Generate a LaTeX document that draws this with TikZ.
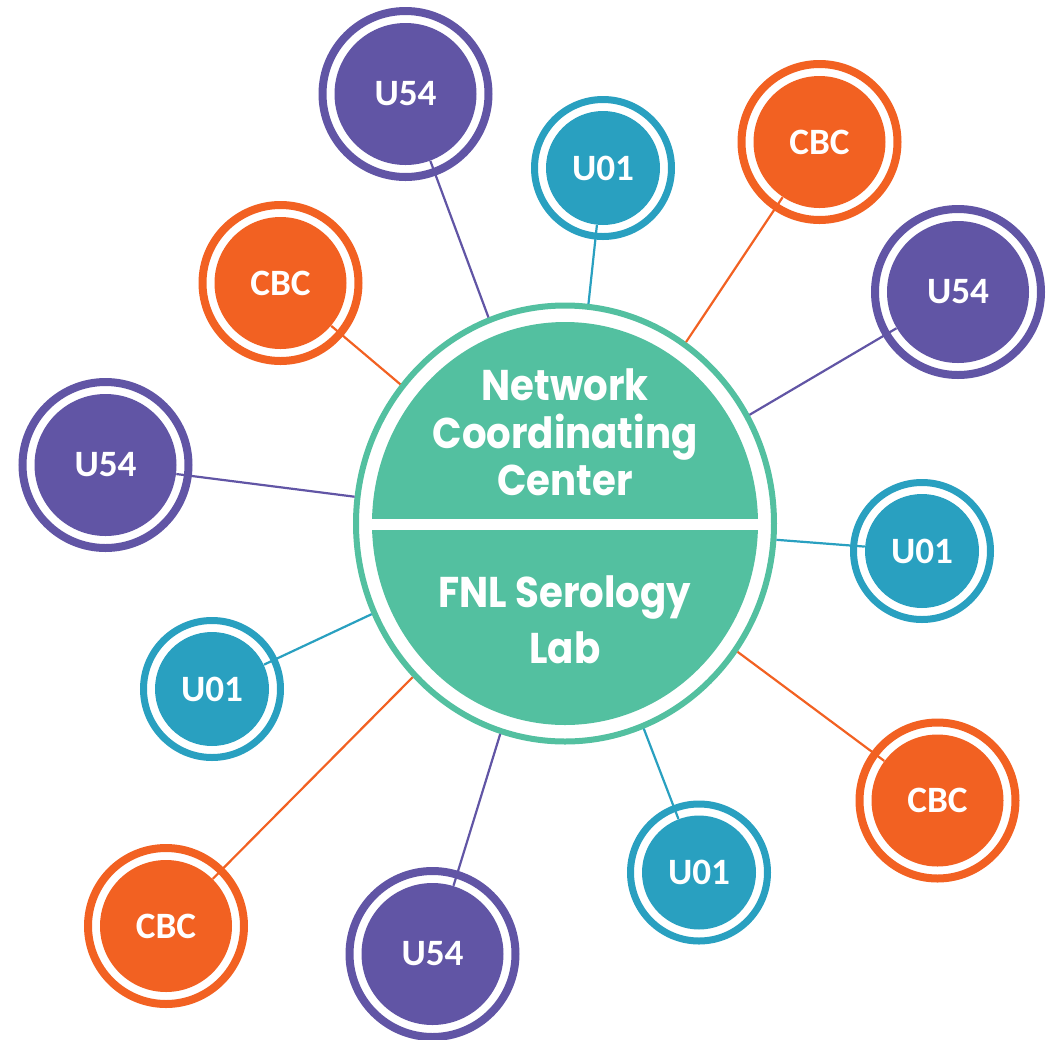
\documentclass[tikz,border=0pt]{standalone}
\usepackage{fontspec}
\usetikzlibrary{shapes.geometric}
\newfontfamily\hubfont{Poppins}[FakeStretch=0.9]
\newfontfamily\satfont{Carlito}
\definecolor{hubgreen}{RGB}{83,192,160}
\definecolor{u54purple}{RGB}{97,85,165}
\definecolor{u01blue}{RGB}{41,160,192}
\definecolor{cbcorange}{RGB}{242,97,34}
\tikzset{
  hubtext/.style={anchor=base, text=white, inner sep=0pt,
    font=\hubfont\bfseries\fontsize{21.5pt}{24pt}\selectfont},
  satdisk/.style={circle, inner sep=0pt, text=white,
    font=\satfont\bfseries\fontsize{18.6pt}{20pt}\selectfont},
  u54disk/.style={satdisk, fill=u54purple, minimum size=71pt},
  cbcdisk/.style={satdisk, fill=cbcorange, minimum size=66pt},
  u01disk/.style={satdisk, fill=u01blue, minimum size=57pt},
  u54ring/.style={draw=u54purple, line width=4pt, fill=white},
  cbcring/.style={draw=cbcorange, line width=4pt, fill=white},
  u01ring/.style={draw=u01blue, line width=3.5pt, fill=white},
  link/.style={line width=1.1pt},
}
\begin{document}
\begin{tikzpicture}[x=0.5pt,y=-0.5pt]
\useasboundingbox (0,0) rectangle (1051,1040);

% hub: outer ring, inner disk and dividing bar
\node[ellipse, draw=hubgreen, line width=3pt, fill=white, inner sep=0pt,
      minimum width=209pt, minimum height=218pt] (hub) at (565,523.5) {};
\fill[hubgreen] (hub.center) ellipse [x radius=96.5pt, y radius=100.75pt];
\fill[white] (362,519) rectangle (768,530);
\node[hubtext] (t1) at (565,400) {Network};
\node[hubtext] (t2) at (565,448) {Coordinating};
\node[hubtext] (t3) at (565,495) {Center};
\node[hubtext] (t4) at (565,607) {FNL Serology};
\node[hubtext] (t5) at (565,663) {Lab};

% satellites: ring first, then the labelled disk
\foreach \n/\kind/\lab/\px/\py/\rr in {
    s1/u54/U54/405.5/94/41.5,
    s2/u01/U01/603/168/34.25,
    s3/cbc/CBC/819.5/142/39,
    s4/u54/U54/958/292/41.5,
    s5/u01/U01/922/551/34.25,
    s6/cbc/CBC/937.5/800.5/39,
    s7/u01/U01/699/872.5/34.25,
    s8/u54/U54/432.5/954/41.5,
    s9/cbc/CBC/166/926/39,
    s10/u01/U01/212/689/34.25,
    s11/u54/U54/105.5/465/41.5,
    s12/cbc/CBC/280.5/283/39} {
  \draw[\kind ring] (\px,\py) circle [radius=\rr pt];
  \node[\kind disk] (\n) at (\px,\py) {\lab};
}

% connectors from the hub to each satellite
\foreach \n/\c in {s1/u54purple, s4/u54purple, s8/u54purple, s11/u54purple,
                   s2/u01blue, s5/u01blue, s7/u01blue, s10/u01blue,
                   s3/cbcorange, s6/cbcorange, s9/cbcorange, s12/cbcorange} {
  \draw[link, draw=\c] (hub) -- (\n);
}
\end{tikzpicture}
\end{document}
